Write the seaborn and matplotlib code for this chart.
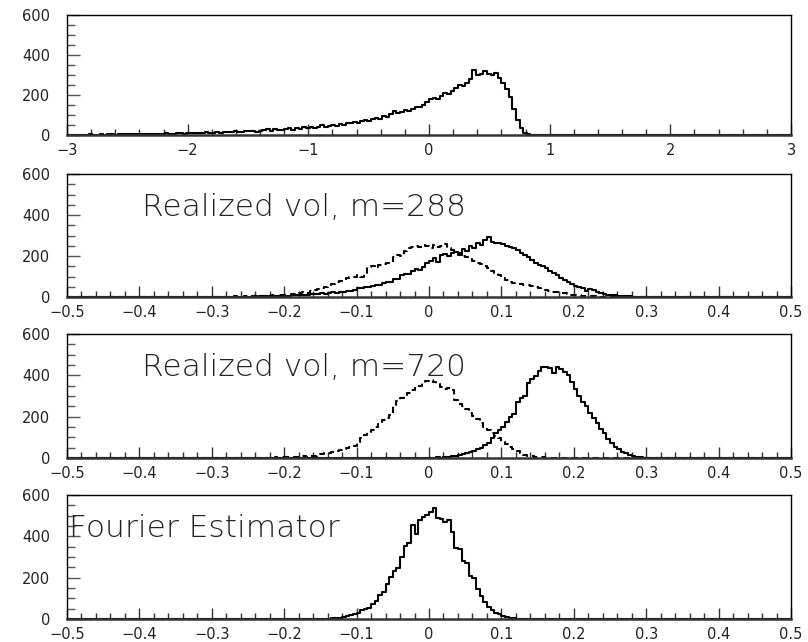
import numpy as np
import pandas as pd
import matplotlib
matplotlib.use("Agg")
import matplotlib.pyplot as plt
import seaborn as sns
from matplotlib.ticker import MultipleLocator, FuncFormatter

# ------------------------------------------------------------------
# data: bin counts (200 bins per panel),
# each list starts at the given left bin edge, zeros elsewhere
# ------------------------------------------------------------------
P1_RANGE = (-3.0, 3.0)
P1_START = -3.00
P1_SOLID = [1, 0, 2, 1, 1, 2, 3, 2, 1, 3, 2, 4, 3, 2, 4, 3, 5, 4, 3, 6,
            5, 4, 6, 5, 7, 6, 5, 8, 7, 6,
            8, 10, 7, 9, 12, 10, 8, 11, 13, 10, 12, 15, 11, 14, 16, 13, 18, 15, 17, 20,
            18, 22, 16, 20, 25, 28, 22, 30, 26, 24, 28, 33, 27, 35, 30, 38, 36,
            42, 35, 40, 48, 38, 44, 52, 46, 55, 50, 62, 58, 65, 60, 70, 75, 72,
            80, 85, 82, 95, 92, 105, 118, 108, 115, 125, 120, 132, 140, 138, 150, 165, 178,
            185, 182, 195, 210, 205, 222, 235, 250, 245, 262,
            280, 325, 300, 305, 322, 305, 298, 310, 285, 262, 230, 190, 130, 75, 35, 12, 4, 1]

P2_RANGE = (-0.5, 0.5)
P2_SOLID_START = -0.30
P2_SOLID = [0, 1, 0, 1, 1, 0, 2, 1, 1, 2,
            2, 3, 2, 4, 3, 4, 5, 4, 6, 5,
            7, 6, 8, 10, 9, 12, 11, 14, 13, 16,
            18, 17, 20, 22, 21, 25, 24, 28, 30, 33,
            45, 42, 50, 48, 55, 60, 58, 68, 72, 75,
            90, 88, 105, 112, 110, 125, 135, 130, 148, 165,
            175, 190, 170, 205, 210, 200, 215, 220, 205, 235,
            225, 250, 240, 265, 255, 280, 292, 270, 265, 262,
            258, 250, 245, 240, 230, 215, 205, 195, 180, 165,
            158, 150, 140, 125, 118, 105, 95, 85, 75, 62,
            55, 48, 42, 30, 40, 35, 22, 20, 15, 12,
            10, 8, 6, 5, 4, 3, 2, 2, 1, 0]
P2_DASHED_START = -0.30
P2_DASHED = [1, 0, 2, 1, 0, 2, 3, 1, 2, 3,
             4, 3, 5, 4, 6, 5, 8, 7, 9, 8,
             12, 10, 15, 14, 18, 22, 20, 28, 32, 38,
             45, 50, 58, 62, 72, 80, 85, 95, 100, 98,
             105, 100, 110, 145, 150, 140, 155, 160, 165, 170,
             195, 205, 200, 225, 240, 245, 250, 245, 255, 250,
             240, 255, 245, 250, 260, 238, 230, 220, 215, 200,
             195, 185, 175, 165, 160, 150, 140, 125, 115, 105,
             95, 85, 75, 68, 65, 62, 60, 58, 55, 48,
             42, 38, 35, 30, 25, 22, 20, 18, 15, 12,
             10, 8, 6, 5, 4, 3, 2, 2, 1, 1]

P3_RANGE = (-0.5, 0.5)
P3_SOLID_START = 0.0
P3_SOLID = [1, 2, 3, 2, 4, 5, 8, 10, 14, 18,
            22, 28, 35, 45, 50, 62, 75, 95, 120, 135,
            150, 175, 200, 215, 270, 290, 300, 365, 380, 395,
            420, 440, 440, 435, 410, 440, 430, 415, 400, 370,
            335, 300, 270, 250, 220, 195, 170, 140, 120, 90,
            75, 55, 45, 30, 25, 15, 10, 6, 4, 2,
            1, 1, 0, 0]
P3_DASHED_START = -0.25
P3_DASHED = [0, 1, 0, 1, 2, 1, 2, 3, 2, 3,
             4, 3, 5, 6, 5, 8, 7, 10, 12, 14,
             18, 22, 25, 30, 35, 40, 42, 48, 55, 60,
             78, 95, 110, 125, 135, 150, 165, 185, 195, 210,
             255, 275, 290, 300, 315, 330, 345, 350, 365, 372,
             378, 370, 360, 345, 335, 340, 330, 280, 262, 250,
             238, 220, 205, 190, 170, 150, 135, 120, 105, 95,
             78, 68, 55, 45, 35, 25, 15, 12, 8, 5,
             4, 3, 2, 2, 1, 1, 0, 1, 0, 0]

P4_RANGE = (-0.5, 0.5)
P4_START = -0.16
P4_SOLID = [0, 1, 1, 2, 2, 3, 5, 6, 10, 14,
            18, 22, 30, 42, 50, 55, 75, 85, 115, 130,
            170, 205, 230, 245, 300, 355, 370, 455, 410, 480,
            495, 505, 520, 535, 490, 485, 470, 480, 420, 345,
            340, 280, 270, 210, 200, 145, 110, 80, 60, 45,
            30, 22, 14, 10, 6, 4, 2, 1, 0, 0]

LABELS = [None, "Realized vol, m=288", "Realized vol, m=720", "Fourier Estimator"]

N_BINS = 200


def hist_frame(rng, start, vals):
    lo, hi = rng
    w = (hi - lo) / N_BINS
    c = np.zeros(N_BINS)
    i = int(round((start - lo) / w))
    c[i:i + len(vals)] = vals
    centers = lo + w * (np.arange(N_BINS) + 0.5)
    return pd.DataFrame({"x": centers, "w": c})


def fmt(v, pos):
    if abs(v) < 1e-9:
        return "0"
    return ("%g" % round(v, 6)).replace("-", "\u2212")


sns.set_style("ticks")
plt.rcParams["font.family"] = ["DejaVu Sans"]

fig = plt.figure(figsize=(8.08, 6.42), dpi=100)

# pixel boxes (top, bottom) of each panel
boxes = [(15, 135), (174, 297), (334, 458), (495, 619)]
left_px, right_px = 67, 791
W, H = 808, 642

panels = [
    (P1_RANGE, [(P1_START, P1_SOLID, "-")], 1.0, 0.2),
    (P2_RANGE, [(P2_DASHED_START, P2_DASHED, (0, (3, 2))),
                (P2_SOLID_START, P2_SOLID, "-")], 0.1, 0.02),
    (P3_RANGE, [(P3_DASHED_START, P3_DASHED, (0, (3, 2))),
                (P3_SOLID_START, P3_SOLID, "-")], 0.1, 0.02),
    (P4_RANGE, [(P4_START, P4_SOLID, "-")], 0.1, 0.02),
]

for k, ((top, bot), (rng, series, maj, mnr)) in enumerate(zip(boxes, panels)):
    ax = fig.add_axes([left_px / W, 1 - bot / H, (right_px - left_px) / W, (bot - top) / H])
    for start, vals, ls in series:
        df = hist_frame(rng, start, vals)
        sns.histplot(data=df, x="x", weights="w", bins=N_BINS, binrange=rng,
                     element="step", fill=False, color="black", linewidth=1.5,
                     linestyle=ls, ax=ax)
    ax.set_xlim(*rng)
    ax.set_ylim(0, 600)
    ax.set_xlabel("")
    ax.set_ylabel("")
    ax.xaxis.set_major_locator(MultipleLocator(maj))
    ax.xaxis.set_minor_locator(MultipleLocator(mnr))
    ax.yaxis.set_major_locator(MultipleLocator(200))
    ax.yaxis.set_minor_locator(MultipleLocator(50))
    ax.xaxis.set_major_formatter(FuncFormatter(fmt))
    ax.yaxis.set_major_formatter(FuncFormatter(fmt))
    ax.tick_params(bottom=True, left=True, top=False, right=False, which="both")
    ax.tick_params(axis="x", which="major", direction="in", length=8, width=1,
                   pad=6, labelsize=10.5, labelcolor="#222222", color="#333333")
    ax.tick_params(axis="x", which="minor", direction="in", length=4, width=1,
                   color="#333333")
    ax.tick_params(axis="y", which="major", direction="in", length=9.5, width=1,
                   pad=12, labelsize=10.5, labelcolor="#222222", color="#555555")
    ax.tick_params(axis="y", which="minor", direction="in", length=5.5, width=1,
                   color="#555555")
    for s in ax.spines.values():
        s.set_visible(True)
        s.set_linewidth(1.0)
        s.set_color("black")
    ax.spines["bottom"].set_linewidth(1.8)
    ax.spines["bottom"].set_color("#333333")
    if LABELS[k]:
        x0 = 0.003 if k == 3 else 0.104
        ax.text(x0, 0.73, LABELS[k], transform=ax.transAxes, fontsize=22.5,
                fontweight="light", color="#222222", va="center", ha="left")

fig.savefig("out.png", dpi=100)
